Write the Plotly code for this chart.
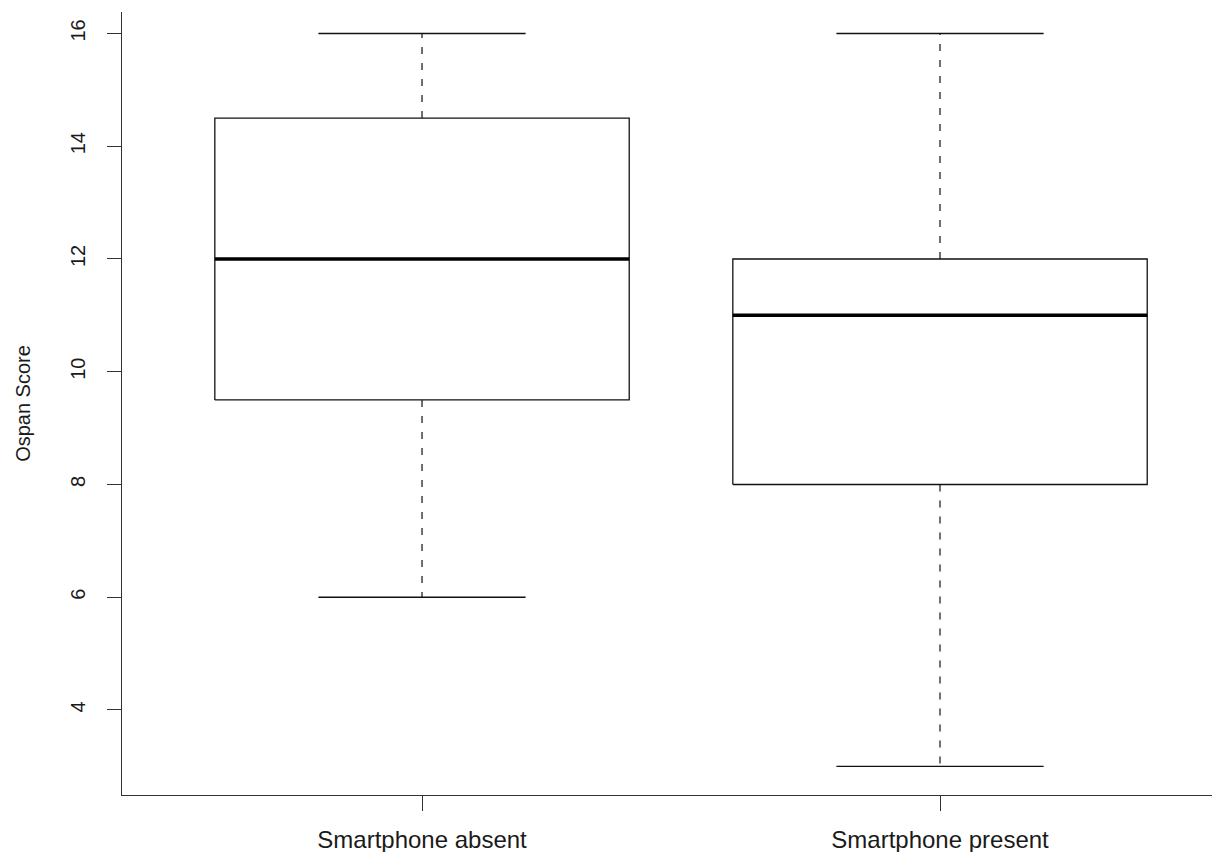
import plotly.graph_objects as go

# ---- data ----
categories = ["Smartphone absent", "Smartphone present"]
positions = [1, 2]
lower_whisker = [6, 3]
q1 = [9.5, 8]
median = [12, 11]
q3 = [14.5, 12]
upper_whisker = [16, 16]
y_ticks = [4, 6, 8, 10, 12, 14, 16]

BOX_W = 0.8
CAP_W = 0.4
FONT = "Liberation Sans, Arial, Helvetica, sans-serif"
INK = "#111111"

fig = go.Figure()
for i, p in enumerate(positions):
    # dashed whiskers
    fig.add_trace(go.Scatter(
        x=[p, p, None, p, p],
        y=[q3[i], upper_whisker[i], None, q1[i], lower_whisker[i]],
        mode="lines", line=dict(color=INK, width=1.2, dash="7px,9px"),
        hoverinfo="skip", showlegend=False))
    # caps
    fig.add_trace(go.Scatter(
        x=[p - CAP_W / 2, p + CAP_W / 2, None, p - CAP_W / 2, p + CAP_W / 2],
        y=[upper_whisker[i], upper_whisker[i], None, lower_whisker[i], lower_whisker[i]],
        mode="lines", line=dict(color=INK, width=1.3),
        hoverinfo="skip", showlegend=False))
    # box
    fig.add_trace(go.Scatter(
        x=[p - BOX_W / 2, p + BOX_W / 2, p + BOX_W / 2, p - BOX_W / 2, p - BOX_W / 2],
        y=[q1[i], q1[i], q3[i], q3[i], q1[i]],
        mode="lines", line=dict(color=INK, width=1.3),
        fill="toself", fillcolor="white",
        hoverinfo="skip", showlegend=False))
    # median
    fig.add_trace(go.Scatter(
        x=[p - BOX_W / 2, p + BOX_W / 2],
        y=[median[i], median[i]],
        mode="lines", line=dict(color="black", width=3.5),
        hoverinfo="skip", showlegend=False))

fig.update_layout(
    width=1220, height=852,
    margin=dict(l=114, r=8, t=4, b=65),
    paper_bgcolor="white", plot_bgcolor="white",
    font=dict(family=FONT, color="#1a1a1a"),
    xaxis=dict(
        range=[0.4208, 2.5405],
        tickmode="array", tickvals=positions, ticktext=categories,
        showgrid=False, zeroline=False, automargin=False,
        showline=True, linecolor="#333333", linewidth=1.3,
        ticks="outside", ticklen=15, tickwidth=1.3, tickcolor="#333333",
        tickfont=dict(size=24, family=FONT, color="#1a1a1a"),
        ticklabelstandoff=8,
    ),
    yaxis=dict(
        range=[2.492, 16.381],
        tickmode="array", tickvals=y_ticks,
        showgrid=False, zeroline=False, automargin=False,
        showline=True, linecolor="#333333", linewidth=1.3,
        ticks="outside", ticklen=14, tickwidth=1.3, tickcolor="#333333",
        tickangle=-90,
        tickfont=dict(size=20, family=FONT, color="#1a1a1a"),
        ticklabelstandoff=14,
        title=dict(text="Ospan Score", font=dict(size=20, family=FONT, color="#1a1a1a"), standoff=30),
    ),
)

fig.write_html("out.html")
